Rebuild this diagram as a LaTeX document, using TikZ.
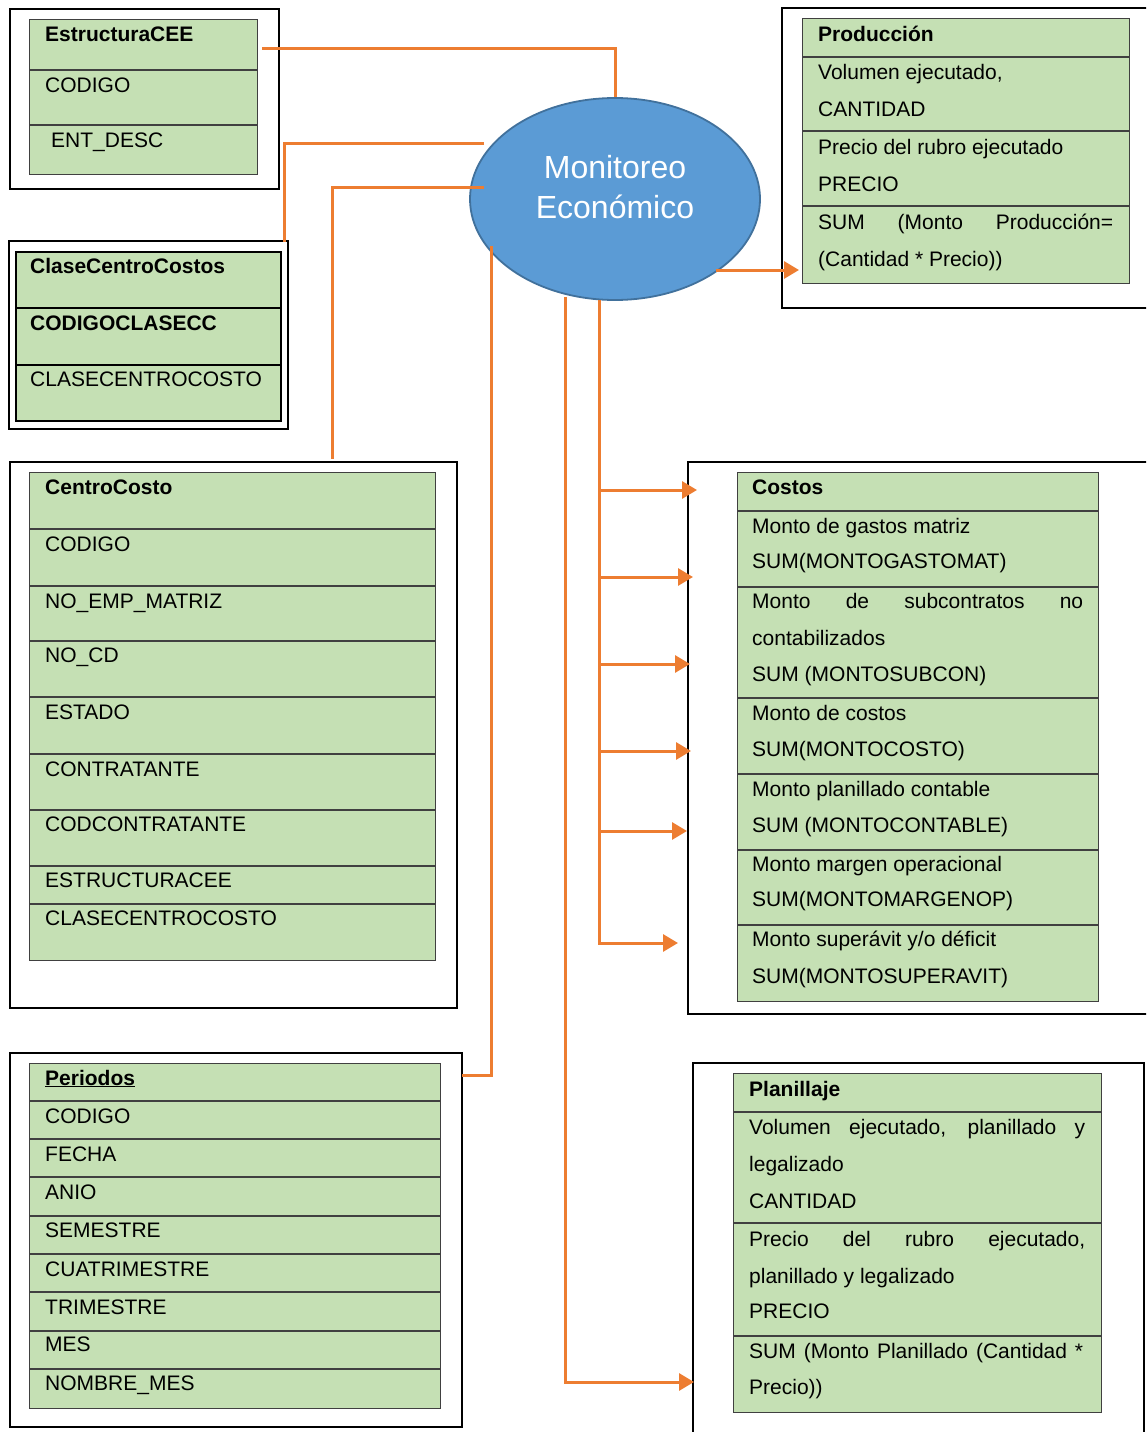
\documentclass[tikz,border=0pt]{standalone}
\usepackage{fontspec}
\setmainfont{Liberation Sans}
\usetikzlibrary{shapes.geometric,arrows.meta}
\definecolor{rowgreen}{HTML}{C5E0B4}
\definecolor{linkorange}{HTML}{ED7D31}
\definecolor{ovalblue}{HTML}{5B9BD5}
\definecolor{ovalrim}{HTML}{41719C}
\definecolor{gridgray}{HTML}{404040}

\begin{document}
\begin{tikzpicture}[x=1pt,y=-1pt,
  frame/.style={draw=black,line width=1.6pt,anchor=north west,inner sep=0pt},
  tbl/.style={fill=rowgreen,draw=gridgray,line width=1.2pt,anchor=north west,inner sep=0pt},
  sep/.style={draw=gridgray,line width=1.2pt},
  txt/.style={anchor=base west,inner sep=0pt,font=\fontsize{21}{25}\selectfont},
  hdr/.style={txt,font=\fontsize{21}{25}\selectfont\bfseries},
  conn/.style={draw=linkorange,line width=3pt},
  arr/.style={conn,-{Triangle[length=15pt,width=17pt]}}
]
\fill[white] (0,0) rectangle (1146,1432);
\useasboundingbox (0,0) rectangle (1146,1432);
\clip (0,0) rectangle (1146,1432);

% ---------- outer frames ----------
\node[frame,minimum width=269pt,minimum height=180pt] (fEst) at (9,8) {};
\node[frame,minimum width=279pt,minimum height=188pt] (fCla) at (8,240) {};
\node[frame,minimum width=400pt,minimum height=300pt] (fPro) at (781,7) {};
\node[frame,minimum width=470pt,minimum height=552pt] (fCos) at (687,461) {};
\node[frame,minimum width=451pt,minimum height=400pt] (fPla) at (692,1062) {};
\node[frame,minimum width=452pt,minimum height=374pt] (fPer) at (9,1052) {};
\node[frame,minimum width=447pt,minimum height=546pt] (fCen) at (9,461) {};

% ---------- EstructuraCEE ----------
\node[tbl,minimum width=228pt,minimum height=155pt] (tEst) at (29,19) {};
\foreach \y in {70,125} \draw[sep] (29,\y) -- (257,\y);
\node[hdr] (est-h) at (45,41) {EstructuraCEE};
\node[txt] (est-1) at (45,92) {CODIGO};
\node[txt] (est-2) at (51,147) {ENT\_DESC};

% ---------- ClaseCentroCostos ----------
\node[tbl,draw=black,line width=2.4pt,minimum width=265pt,minimum height=169pt] (tCla) at (15,251) {};
\foreach \y in {308,365} \draw[black,line width=2pt] (15,\y) -- (280,\y);
\node[hdr] (cla-h) at (30,273) {ClaseCentroCostos};
\node[hdr] (cla-1) at (30,330) {CODIGOCLASECC};
\node[txt] (cla-2) at (30,386) {CLASECENTROCOSTO};

% ---------- Produccion ----------
\node[tbl,minimum width=327pt,minimum height=265pt] (tPro) at (802,18) {};
\foreach \y in {57,131,206} \draw[sep] (802,\y) -- (1129,\y);
\node[hdr] (pro-h) at (818,41) {Producción};
\node[txt] (pro-1) at (818,79) {Volumen ejecutado,};
\node[txt] (pro-2) at (818,116) {CANTIDAD};
\node[txt] (pro-3) at (818,154) {Precio del rubro ejecutado};
\node[txt] (pro-4) at (818,191) {PRECIO};
\node[txt] (pro-5) at (818,229) {\makebox[295pt][s]{SUM (Monto Producción=}};
\node[txt] (pro-6) at (818,266) {(Cantidad * Precio))};

% ---------- Costos ----------
\node[tbl,minimum width=361pt,minimum height=529pt] (tCos) at (737,472) {};
\foreach \y in {511,587,698,774,850,925} \draw[sep] (737,\y) -- (1098,\y);
\node[hdr] (cos-h) at (752,494) {Costos};
\node[txt] (cos-1) at (752,533) {Monto de gastos matriz};
\node[txt] (cos-2) at (752,568) {SUM(MONTOGASTOMAT)};
\node[txt] (cos-3) at (752,608) {\makebox[331pt][s]{Monto de subcontratos no}};
\node[txt] (cos-4) at (752,645) {contabilizados};
\node[txt] (cos-5) at (752,681) {SUM (MONTOSUBCON)};
\node[txt] (cos-6) at (752,720) {Monto de costos};
\node[txt] (cos-7) at (752,756) {SUM(MONTOCOSTO)};
\node[txt] (cos-8) at (752,796) {Monto planillado contable};
\node[txt] (cos-9) at (752,832) {SUM (MONTOCONTABLE)};
\node[txt] (cos-10) at (752,871) {Monto margen operacional};
\node[txt] (cos-11) at (752,906) {SUM(MONTOMARGENOP)};
\node[txt] (cos-12) at (752,946) {Monto superávit y/o déficit};
\node[txt] (cos-13) at (752,983) {SUM(MONTOSUPERAVIT)};

% ---------- Planillaje ----------
\node[tbl,minimum width=368pt,minimum height=339pt] (tPla) at (733,1073) {};
\foreach \y in {1112,1223,1336} \draw[sep] (733,\y) -- (1101,\y);
\node[hdr] (pla-h) at (749,1096) {Planillaje};
\node[txt] (pla-1) at (749,1134) {\makebox[336pt][s]{Volumen ejecutado, planillado y}};
\node[txt] (pla-2) at (749,1171) {legalizado};
\node[txt] (pla-3) at (749,1208) {CANTIDAD};
\node[txt] (pla-4) at (749,1246) {\makebox[336pt][s]{Precio del rubro ejecutado,}};
\node[txt] (pla-5) at (749,1283) {planillado y legalizado};
\node[txt] (pla-6) at (749,1318) {PRECIO};
\node[txt] (pla-7) at (749,1358) {\makebox[334pt][s]{SUM (Monto Planillado (Cantidad *}};
\node[txt] (pla-8) at (749,1394) {Precio))};

% ---------- Periodos ----------
\node[tbl,minimum width=411pt,minimum height=345pt] (tPer) at (29,1063) {};
\foreach \y in {1101,1139,1177,1216,1254,1292,1331,1369} \draw[sep] (29,\y) -- (440,\y);
\node[hdr] (per-h) at (45,1085) {\underline{Periodos}};
\foreach \t/\y [count=\i] in {CODIGO/1123,FECHA/1161,ANIO/1199,SEMESTRE/1237,CUATRIMESTRE/1276,TRIMESTRE/1314,MES/1351,NOMBRE\_MES/1390}
  \node[txt] (per-\i) at (45,\y) {\t};

% ---------- CentroCosto ----------
\node[tbl,minimum width=406pt,minimum height=488pt] (tCen) at (29,472) {};
\foreach \y in {529,586,641,697,754,810,866,904} \draw[sep] (29,\y) -- (435,\y);
\node[hdr] (cen-h) at (45,494) {CentroCosto};
\foreach \t/\y [count=\i] in {CODIGO/551,NO\_EMP\_MATRIZ/608,NO\_CD/662,ESTADO/719,CONTRATANTE/776,CODCONTRATANTE/831,ESTRUCTURACEE/887,CLASECENTROCOSTO/925}
  \node[txt] (cen-\i) at (45,\y) {\t};

% ---------- central oval ----------
\node[ellipse,fill=ovalblue,draw=ovalrim,line width=1.8pt,minimum width=290pt,minimum height=202pt,inner sep=0pt] (mon) at (615,199) {};
\node[anchor=base,inner sep=0pt,text=white,font=\fontsize{32}{40}\selectfont] (mon-a) at (615,178) {Monitoreo};
\node[anchor=base,inner sep=0pt,text=white,font=\fontsize{32}{40}\selectfont] (mon-b) at (615,218) {Económico};

% ---------- connectors ----------
\coordinate (a1) at (262,48);
\draw[conn] (a1) -| (mon.north);
\coordinate (a2) at (484,143);
\coordinate (b2) at (284,242);
\draw[conn] (a2) -| (b2);
\coordinate (a3) at (484,187);
\coordinate (b3) at (332,459);
\draw[conn] (a3) -| (b3);
\coordinate (a4) at (491,246);
\coordinate (b4) at (462,1075);
\draw[conn] (a4) |- (b4);
\coordinate (a5) at (565,297);
\coordinate (b5) at (694,1382);
\draw[arr] (a5) |- (b5);
\coordinate (a6) at (599,300);
\coordinate (b6) at (678,943);
\draw[arr] (a6) |- (b6);
\foreach \y/\x in {490/697,577/693,664/690,751/691,831/687}
  \draw[arr] (599,\y) -- (\x,\y);
\coordinate (a7) at (716,270);
\coordinate (b7) at (799,270);
\draw[arr] (a7) -- (b7);
\end{tikzpicture}
\end{document}
